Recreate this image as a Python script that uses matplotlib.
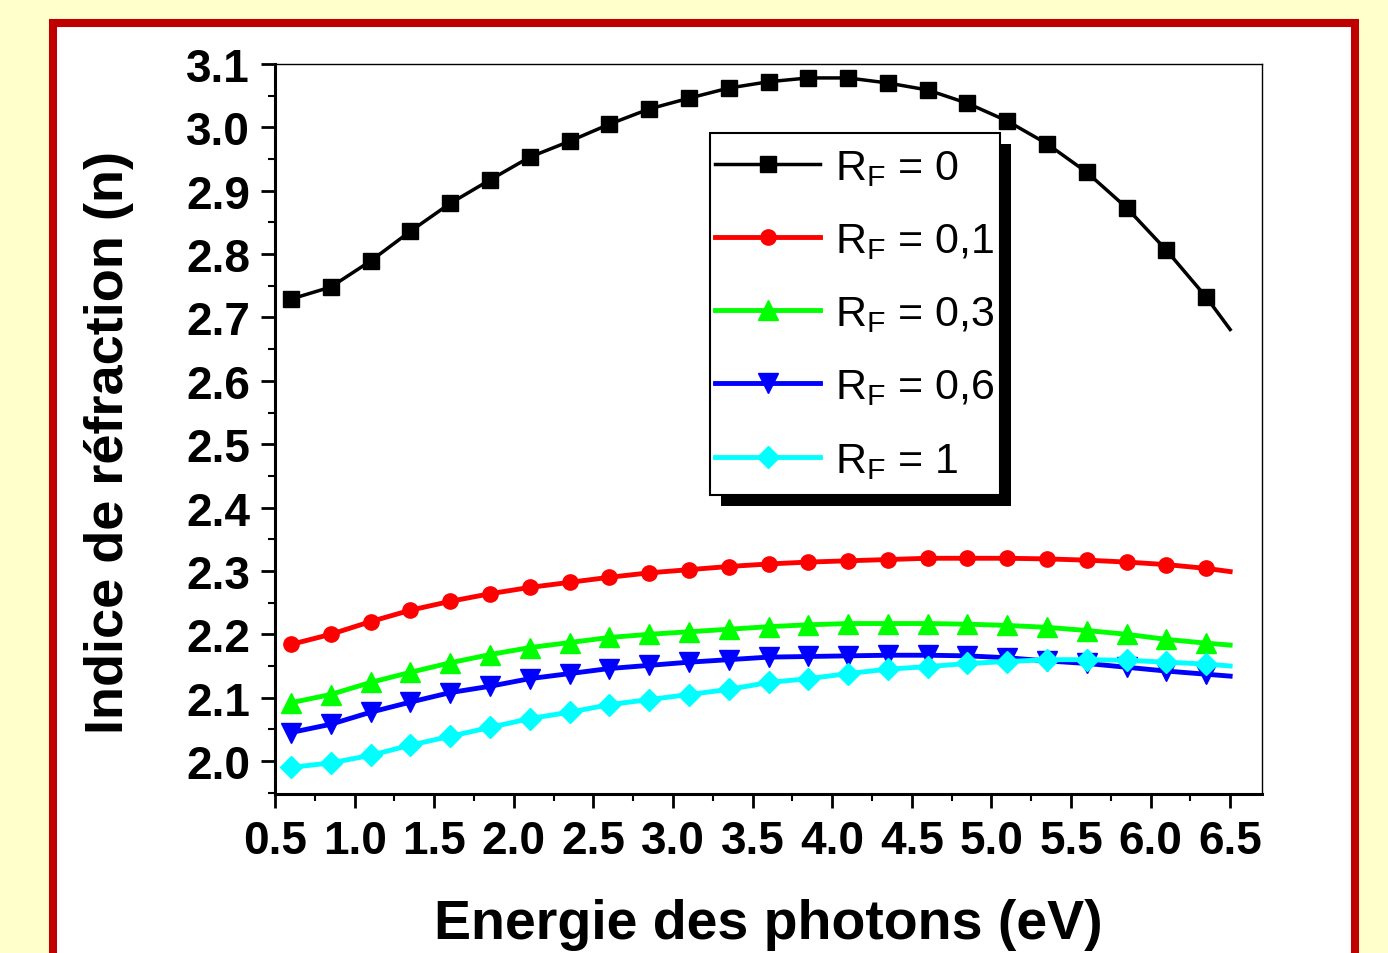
# indice de refraction vs energie des photons, pour plusieurs R_F
import numpy as np
import matplotlib.pyplot as plt
from matplotlib.patches import Rectangle
from matplotlib.ticker import MultipleLocator

plt.rcParams['font.family'] = 'Liberation Sans'
plt.rcParams['mathtext.fontset'] = 'custom'
plt.rcParams['mathtext.rm'] = 'Liberation Sans'
plt.rcParams['mathtext.it'] = 'Liberation Sans:italic'
plt.rcParams['mathtext.bf'] = 'Liberation Sans:bold'

# %% donnees
energie = [0.6, 0.85, 1.1, 1.35, 1.6, 1.85, 2.1, 2.35, 2.6, 2.85, 3.1, 3.35,
           3.6, 3.85, 4.1, 4.35, 4.6, 4.85, 5.1, 5.35, 5.6, 5.85, 6.1, 6.35, 6.5]

n_rf0 = [2.729, 2.748, 2.789, 2.836, 2.880, 2.917, 2.953, 2.978, 3.005, 3.029,
         3.046, 3.062, 3.072, 3.078, 3.078, 3.070, 3.059, 3.038, 3.010, 2.974,
         2.929, 2.873, 2.806, 2.732, 2.681]
n_rf01 = [2.184, 2.200, 2.220, 2.238, 2.252, 2.264, 2.274, 2.282, 2.290, 2.297,
          2.302, 2.307, 2.311, 2.314, 2.316, 2.318, 2.320, 2.320, 2.320, 2.319,
          2.317, 2.314, 2.310, 2.304, 2.299]
n_rf03 = [2.092, 2.105, 2.124, 2.140, 2.155, 2.168, 2.179, 2.187, 2.195, 2.200,
          2.204, 2.208, 2.212, 2.215, 2.217, 2.217, 2.217, 2.216, 2.214, 2.211,
          2.206, 2.200, 2.192, 2.186, 2.183]
n_rf06 = [2.045, 2.058, 2.077, 2.093, 2.108, 2.118, 2.130, 2.138, 2.146, 2.151,
          2.156, 2.160, 2.164, 2.165, 2.166, 2.167, 2.167, 2.166, 2.163, 2.158,
          2.154, 2.148, 2.142, 2.137, 2.134]
n_rf1 = [1.990, 1.997, 2.009, 2.025, 2.039, 2.053, 2.067, 2.077, 2.089, 2.097,
         2.105, 2.113, 2.124, 2.130, 2.138, 2.145, 2.149, 2.154, 2.157, 2.160,
         2.160, 2.159, 2.156, 2.153, 2.150]

labels = [r'R$_\mathrm{F}$ = 0', r'R$_\mathrm{F}$ = 0,1', r'R$_\mathrm{F}$ = 0,3',
          r'R$_\mathrm{F}$ = 0,6', r'R$_\mathrm{F}$ = 1']

# %% figure
W, H = 1388, 954
fig = plt.figure(figsize=(W / 100, H / 100), dpi=100, facecolor='#FFFFCC')
fig.add_artist(Rectangle((53 / W, -0.1), (1355 - 53) / W, (1 - 24 / H) + 0.1,
                         transform=fig.transFigure, fc='white', ec='#C00000',
                         lw=5.8, zorder=-1))

ax = fig.add_axes([275 / W, 1 - 795 / H, (1262 - 275) / W, (795 - 65) / H])

styles = [('k', 's', 11, 2.5), ('#FF0000', 'o', 11, 3.5), ('#00FF00', '^', 15, 3.5),
          ('#0000FF', 'v', 15, 3.5), ('#00FFFF', 'D', 11, 3.5)]
series = [n_rf0, n_rf01, n_rf03, n_rf06, n_rf1]
x = np.array(energie)
for y, lab, (c, m, ms, lw) in zip(series, labels, styles):
    ax.plot(x, y, color=c, marker=m, ms=ms, lw=lw, mec=c, mfc=c,
            markevery=list(range(len(x) - 1)), label=lab)

ax.set_xlim(0.5, 6.7)
ax.set_ylim(1.948, 3.1)
ax.xaxis.set_minor_locator(MultipleLocator(0.25))
ax.yaxis.set_minor_locator(MultipleLocator(0.05))
ax.set_xticks(np.arange(0.5, 6.51, 0.5))
ax.set_yticks(np.arange(2.0, 3.11, 0.1))

ax.tick_params(which='major', direction='out', length=10, width=2,
               labelsize=33, top=False, right=False)
ax.tick_params(which='minor', direction='out', length=5, width=1.5,
               top=False, right=False)
ax.tick_params(axis='x', pad=8)
ax.tick_params(axis='y', pad=8)
for t in ax.get_xticklabels() + ax.get_yticklabels():
    t.set_fontweight('bold')

ax.spines['left'].set_linewidth(2.2)
ax.spines['bottom'].set_linewidth(2.2)
ax.spines['top'].set_linewidth(1)
ax.spines['right'].set_linewidth(1)

ax.set_xlabel('Energie des photons (eV)', fontsize=40, fontweight='bold')
ax.set_ylabel('Indice de réfraction (n)', fontsize=39, fontweight='bold')
ax.xaxis.set_label_coords(0.5, -(899 - 795) / 730)
ax.yaxis.set_label_coords((134 - 275) / 987, (795 - 442) / 730)

# legende sans cadre, cadre + ombre dessines a la main
pad_l, pad_r, pad_t, pad_b = 5, 5, 15, 14
leg = ax.legend(loc='upper left',
                bbox_to_anchor=((710 + pad_l) / W, 1 - (134 + pad_t) / H),
                bbox_transform=fig.transFigure, borderaxespad=0, borderpad=0,
                fontsize=31, handlelength=2.44, handletextpad=0.35,
                labelspacing=0.77, frameon=False)

fig.canvas.draw()
bb = leg.get_window_extent()
x0 = (bb.x0 - pad_l) / W
y0 = (bb.y0 - pad_b) / H
bw = (bb.width + pad_l + pad_r) / W
bh = (bb.height + pad_t + pad_b) / H
ax.add_artist(Rectangle((x0 + 11 / W, y0 - 11 / H), bw, bh,
                        transform=fig.transFigure, fc='k', ec='none', zorder=4.8))
ax.add_artist(Rectangle((x0, y0), bw, bh, transform=fig.transFigure,
                        fc='white', ec='k', lw=1.5, zorder=4.9))

fig.savefig('out.png', dpi=100, facecolor=fig.get_facecolor())
